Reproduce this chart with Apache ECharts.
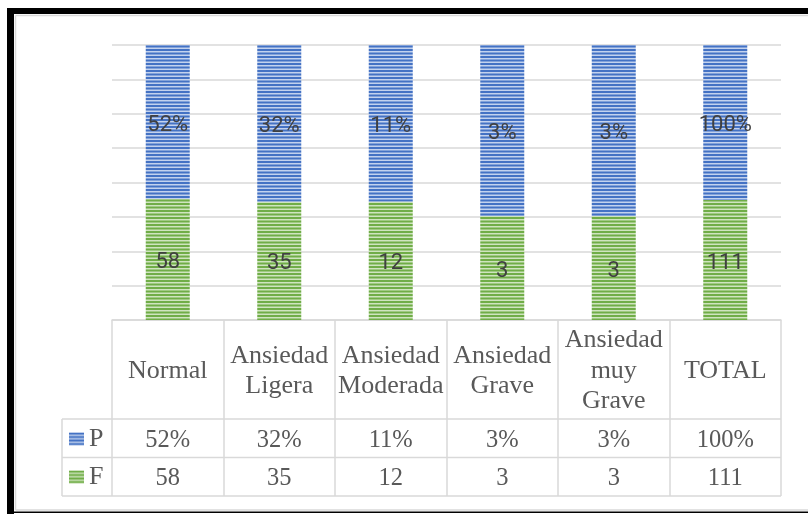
<!DOCTYPE html>
<html>
<head>
<meta charset="utf-8">
<script src="https://cdn.jsdelivr.net/npm/echarts@6/dist/echarts.min.js"></script>
<style>
  html, body { margin: 0; padding: 0; background: #fff; }
  #chart { width: 808px; height: 514px; }
</style>
</head>
<body>
<div id="chart"></div>
<script>
// header row of the data table / x categories
const categories = ['Normal', 'Ansiedad\nLigera', 'Ansiedad\nModerada', 'Ansiedad\nGrave', 'Ansiedad\nmuy\nGrave', 'TOTAL']
// table values
const pValues = [52, 32, 11, 3, 3, 100]
const fValues = [58, 35, 12, 3, 3, 111]
// share of each column taken by the segments (% of plot height)
const fShare = [44, 43, 43, 37.8, 37.8, 43.6]
const pShare = [56, 57, 57, 62.2, 62.2, 56.4]

function stripes(dark, light) {
  const c = document.createElement('canvas')
  c.width = 4
  c.height = 7
  const ctx = c.getContext('2d')
  ctx.fillStyle = light
  ctx.fillRect(0, 0, 4, 7)
  ctx.fillStyle = dark
  ctx.fillRect(0, 0, 4, 2)
  ctx.fillRect(0, 3.5, 4, 2)
  return { image: c, repeat: 'repeat' }
}

const blue = stripes('#4472c4', '#c3d2ee')
const green = stripes('#70ad47', '#cfe4bf')
const gridGrey = '#d9d9d9'
const serif = '"Liberation Serif", "Times New Roman", serif'

const chart = echarts.init(document.getElementById('chart'), null, { renderer: 'canvas' })

const barLabel = {
  show: true,
  position: 'inside',
  offset: [0, 3],
  fontFamily: 'Roboto',
  fontSize: 22,
  color: '#404040'
}

chart.setOption({
  backgroundColor: '#ffffff',
  animation: false,
  grid: { left: 112, right: 27, top: 45, bottom: 194 },
  legend: {
    data: ['P', 'F'],
    orient: 'vertical',
    left: 69,
    top: 426,
    padding: 0,
    itemWidth: 15,
    itemHeight: 13,
    itemGap: 12,
    icon: 'rect',
    selectedMode: false,
    textStyle: { fontFamily: serif, fontSize: 26, lineHeight: 26, color: '#595959' }
  },
  xAxis: [
    {
      type: 'category',
      data: categories,
      axisLine: { show: true, lineStyle: { color: gridGrey, width: 1.5 } },
      axisTick: { show: true, interval: 0, length: 176, lineStyle: { color: gridGrey, width: 1.5 } },
      axisLabel: {
        interval: 0,
        margin: 51,
        verticalAlign: 'middle',
        fontFamily: serif,
        fontSize: 26,
        lineHeight: 30.5,
        color: '#595959'
      }
    },
    {
      type: 'category',
      position: 'bottom',
      data: pValues.map(v => v + '%'),
      axisLine: { show: false },
      axisTick: { show: false },
      axisLabel: {
        interval: 0,
        margin: 121,
        verticalAlign: 'middle',
        fontFamily: serif,
        fontSize: 24.5,
        color: '#595959'
      }
    },
    {
      type: 'category',
      position: 'bottom',
      data: fValues.map(String),
      axisLine: { show: false },
      axisTick: { show: false },
      axisLabel: {
        interval: 0,
        margin: 158.5,
        verticalAlign: 'middle',
        fontFamily: serif,
        fontSize: 24.5,
        color: '#595959'
      }
    }
  ],
  yAxis: {
    type: 'value',
    min: 0,
    max: 100,
    interval: 12.5,
    axisLabel: { show: false },
    axisLine: { show: false },
    axisTick: { show: false },
    splitLine: { lineStyle: { color: gridGrey, width: 1.5 } }
  },
  series: [
    {
      name: 'F',
      type: 'bar',
      stack: 'total',
      barWidth: 44,
      data: fShare,
      itemStyle: { color: green },
      label: Object.assign({}, barLabel, { formatter: p => String(fValues[p.dataIndex]) }),
      emphasis: { disabled: true }
    },
    {
      name: 'P',
      type: 'bar',
      stack: 'total',
      barWidth: 44,
      data: pShare,
      itemStyle: { color: blue },
      label: Object.assign({}, barLabel, { formatter: p => pValues[p.dataIndex] + '%' }),
      emphasis: { disabled: true }
    }
  ],
  graphic: [
    // outer frame
    { type: 'rect', shape: { x: 7, y: 8, width: 801, height: 6 }, style: { fill: '#000' } },
    { type: 'rect', shape: { x: 7, y: 8, width: 7, height: 506 }, style: { fill: '#000' } },
    { type: 'rect', shape: { x: 14, y: 511.5, width: 794, height: 1.5 }, style: { fill: '#000' } },
    { type: 'line', shape: { x1: 15.5, y1: 15.5, x2: 808, y2: 15.5 }, style: { stroke: gridGrey, lineWidth: 1.5 } },
    { type: 'line', shape: { x1: 15.5, y1: 15.5, x2: 15.5, y2: 510 }, style: { stroke: gridGrey, lineWidth: 1.5 } },
    { type: 'line', shape: { x1: 15.5, y1: 510, x2: 808, y2: 510 }, style: { stroke: gridGrey, lineWidth: 1.5 } },
    // data table rows and legend column
    { type: 'line', shape: { x1: 62, y1: 419, x2: 781, y2: 419 }, style: { stroke: gridGrey, lineWidth: 1.5 } },
    { type: 'line', shape: { x1: 62, y1: 457.5, x2: 781, y2: 457.5 }, style: { stroke: gridGrey, lineWidth: 1.5 } },
    { type: 'line', shape: { x1: 62, y1: 496, x2: 781, y2: 496 }, style: { stroke: gridGrey, lineWidth: 1.5 } },
    { type: 'line', shape: { x1: 62, y1: 419, x2: 62, y2: 496 }, style: { stroke: gridGrey, lineWidth: 1.5 } }
  ]
})
</script>
</body>
</html>
